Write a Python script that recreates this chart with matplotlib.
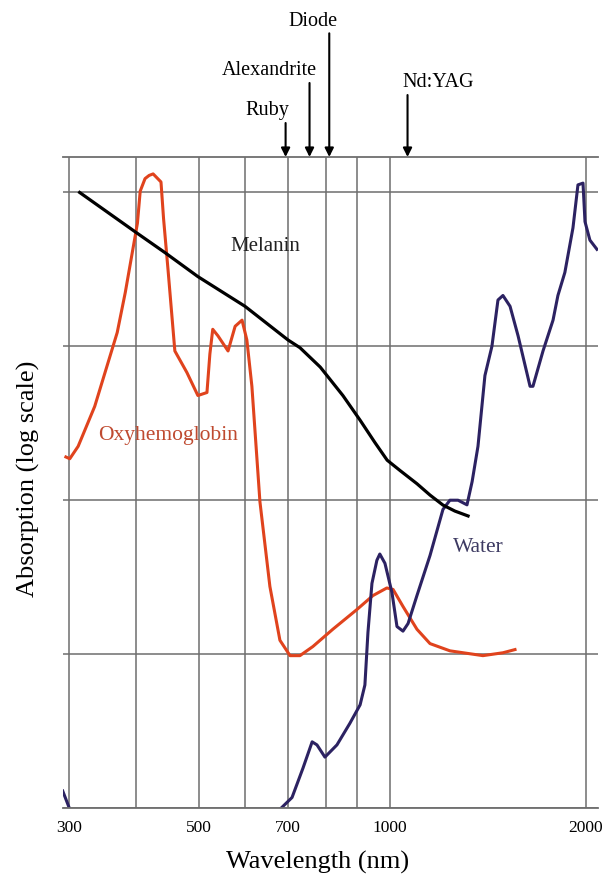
import numpy as np
import matplotlib
matplotlib.use("Agg")
import matplotlib.pyplot as plt

plt.rcParams['font.family'] = ['Liberation Serif', 'DejaVu Serif']

# absorption curves (arbitrary units, log scale), wavelength in nm
melanin_nm = [314, 400, 443, 498, 600, 700, 730, 784, 853, 909, 953, 991, 1036,
              1100, 1152, 1206, 1258, 1318]
melanin = [100, 55, 40.7, 28.4, 18.2, 11.0, 9.8, 7.33, 4.79, 3.31, 2.37, 1.82,
           1.56, 1.28, 1.08, 0.93, 0.85, 0.79]

oxy_nm = [296, 301, 312, 335, 369, 382, 402, 406, 413, 419, 425, 437, 441, 448,
          459, 479, 498, 516, 522, 528, 539, 561, 577, 593, 604, 615, 633, 656,
          680, 705, 730, 764, 821, 900, 947, 990, 1011, 1047, 1100, 1152, 1236,
          1389, 1491, 1556]
oxy = [1.91, 1.86, 2.24, 4.07, 12.3, 22.4, 63.1, 102, 123, 129, 132, 117, 67.6,
       31.6, 9.33, 6.76, 4.79, 5.01, 8.91, 12.9, 11.7, 9.33, 13.5, 14.8, 11.0,
       5.50, 0.977, 0.275, 0.123, 0.0977, 0.0977, 0.112, 0.145, 0.195, 0.240,
       0.269, 0.263, 0.204, 0.145, 0.117, 0.105, 0.0977, 0.102, 0.107]

# nan splits the UV stub from the near-IR part (both run below the axis)
water_nm = [292, 301, np.nan, 680, 710, 738, 762, 775, 797, 834, 876, 909, 923,
            932, 944, 959, 968, 984, 1007, 1025, 1047, 1066, 1100, 1152, 1206,
            1236, 1272, 1313, 1337, 1365, 1399, 1434, 1465, 1491, 1529, 1573,
            1641, 1658, 1718, 1780, 1811, 1856, 1910, 1944, 1979, 1993, 2028, 2079]
water = [0.0129, 0.0098, np.nan, 0.0098, 0.0117, 0.0182, 0.0269, 0.0257, 0.0214,
         0.0257, 0.0355, 0.0468, 0.063, 0.138, 0.288, 0.407, 0.447, 0.389, 0.251,
         0.151, 0.141, 0.158, 0.240, 0.437, 0.871, 1.0, 1.0, 0.933, 1.32, 2.24,
         6.46, 10.0, 20.0, 21.4, 18.2, 11.7, 5.50, 5.50, 9.33, 14.8, 21.4, 30.2,
         58.9, 112, 115, 64.6, 49.0, 42.7]

lasers = ['Ruby', 'Alexandrite', 'Diode', 'Nd:YAG']
laser_nm = [694, 755, 810, 1064]

grid_nm = [300, 400, 500, 600, 700, 800, 900, 1000, 2000]
tick_text = ['300', '', '500', '', '700', '', '', '1000', '2000']
decades = [0.01, 0.1, 1, 10, 100]

# the printed wavelength axis is only roughly logarithmic: spacing of its rulings
grid_pos = np.array([69, 136, 199, 245, 288, 326, 357, 390, 586], float)
knot_t = np.log10(grid_nm)


def _pw(v, xs, ys):
    v = np.asarray(v, float)
    out = np.interp(v, xs, ys)
    lo = v < xs[0]
    hi = v > xs[-1]
    out = np.where(lo, ys[0] + (v - xs[0]) * (ys[1] - ys[0]) / (xs[1] - xs[0]), out)
    out = np.where(hi, ys[-1] + (v - xs[-1]) * (ys[-1] - ys[-2]) / (xs[-1] - xs[-2]), out)
    return out


def fwd(x):
    x = np.asarray(x, float)
    return _pw(np.log10(np.clip(x, 1e-9, None)), knot_t, grid_pos)


def inv(p):
    return 10 ** _pw(p, grid_pos, knot_t)


fig = plt.figure(figsize=(6.10, 8.81), dpi=100)
ax = fig.add_axes([0.1033, 0.0829, 0.877, 0.7389])
ax.set_xscale('function', functions=(fwd, inv))
ax.set_yscale('log')
ax.set_xlim(float(inv(63)), float(inv(598)))
ax.set_ylim(0.01, 170)

ax.set_xticks(grid_nm)
ax.set_xticklabels(tick_text, fontsize=12.5)
ax.xaxis.set_minor_locator(matplotlib.ticker.NullLocator())
ax.set_yticks(decades)
ax.set_yticklabels([])
ax.yaxis.set_minor_locator(matplotlib.ticker.NullLocator())
ax.tick_params(length=0, pad=9)
ax.grid(True, color='#6e6e6e', lw=1.1)
ax.set_axisbelow(True)
for side in ['left', 'right']:
    ax.spines[side].set_visible(False)
for side in ['top', 'bottom']:
    ax.spines[side].set_color('#6e6e6e')
    ax.spines[side].set_linewidth(1.3)

ax.plot(oxy_nm, oxy, color='#e0431d', lw=2.2, solid_joinstyle='round')
ax.plot(water_nm, water, color='#2c2262', lw=2.2, solid_joinstyle='round')
ax.plot(melanin_nm, melanin, color='black', lw=2.3, solid_joinstyle='round')

ax.text(645, 44.7, 'Melanin', fontsize=15, ha='center', va='center', color='#222222')
ax.text(448, 2.63, 'Oxyhemoglobin', fontsize=15.5, ha='center', va='center', color='#bf4a30')
ax.text(1365, 0.49, 'Water', fontsize=15.5, ha='center', va='center', color='#3d3a62')

# laser wavelength markers above the plot
arrow_top = [1.0522, 1.1137, 1.190, 1.0952]
text_dx = [3, 5, 6, -4]
text_ha = ['right', 'right', 'right', 'left']
for name, wl, top, dx, ha in zip(lasers, laser_nm, arrow_top, text_dx, text_ha):
    ax.annotate('', xy=(wl, 1.0), xycoords=('data', 'axes fraction'),
                xytext=(wl, top), textcoords=('data', 'axes fraction'),
                arrowprops=dict(arrowstyle='-|>', color='black', lw=1.5,
                                mutation_scale=13, shrinkA=0, shrinkB=0))
    ax.annotate(name, xy=(wl, top), xycoords=('data', 'axes fraction'),
                xytext=(dx, 2), textcoords='offset points',
                ha=ha, va='bottom', fontsize=14.5, annotation_clip=False)

fig.text(318 / 610, 1 - 862 / 881, 'Wavelength (nm)', fontsize=19, ha='center', va='center')
fig.text(28 / 610, 1 - 479 / 881, 'Absorption (log scale)', fontsize=19,
         rotation=90, ha='center', va='center')

fig.savefig('out.png', dpi=100)
